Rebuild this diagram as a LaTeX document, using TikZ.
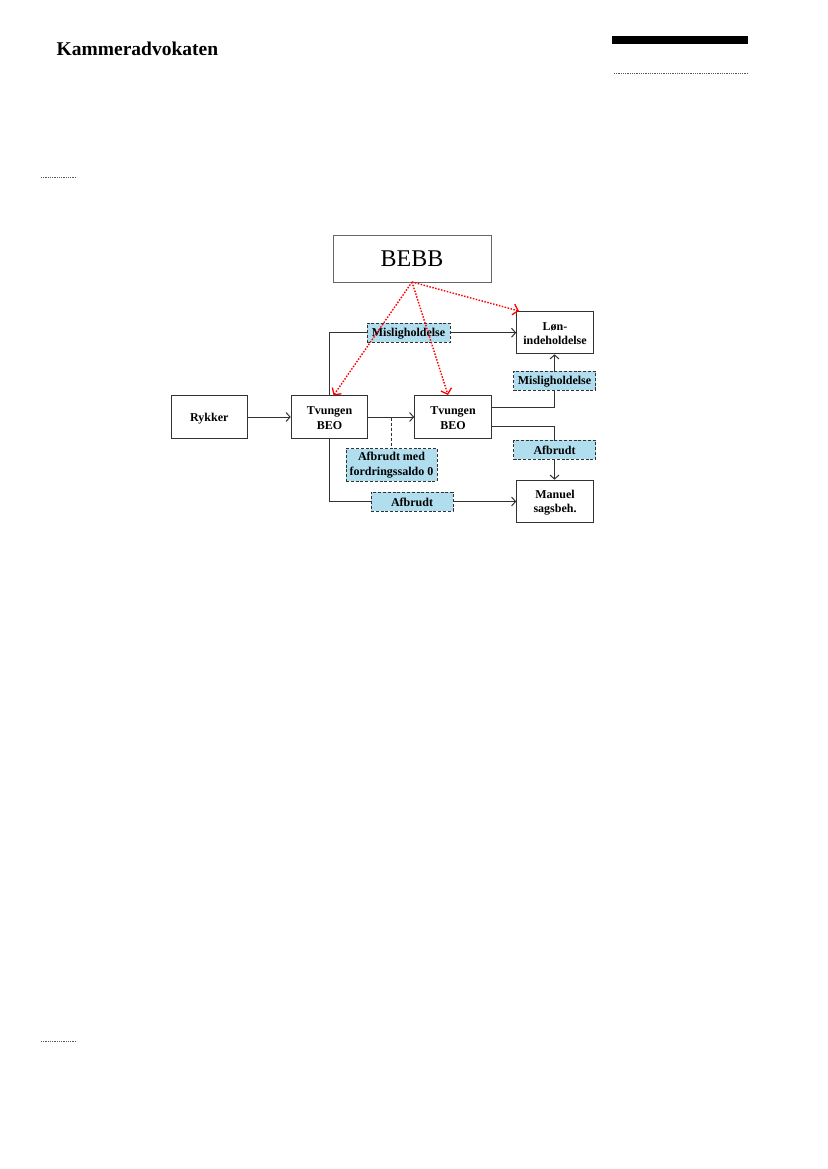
\documentclass[tikz,border=0pt]{standalone}
\usepackage{fontspec}
\setmainfont{Liberation Serif}
\usetikzlibrary{arrows.meta}
\definecolor{lblue}{RGB}{176,222,238}
\definecolor{lineg}{RGB}{50,50,50}
\newcommand{\dnshift}[2]{\raisebox{-#1}[\height][\depth]{#2}}
\tikzset{
  boxn/.style={draw=lineg,line width=1.1pt,fill=white,inner sep=0pt,minimum width=76.5pt,minimum height=42.5pt,align=center,font=\fontsize{12}{14.5}\selectfont\bfseries},
  lab/.style={draw=lineg,line width=1pt,dash pattern=on 3pt off 1.8pt,fill=lblue,inner sep=0pt,align=center,font=\fontsize{12}{14.5}\selectfont\bfseries},
  conn/.style={draw=lineg,line width=1pt},
  arr/.style={conn,-{Straight Barb[length=4pt,width=9pt]}},
  redarr/.style={draw=red,line width=1.4pt,dash pattern=on 1.5pt off 1.5pt,-{Straight Barb[length=5pt,width=11pt,line width=1.3pt]}},
  rule/.style={draw=black!65,line width=0.7pt,dash pattern=on 0.9pt off 0.9pt}
}
\begin{document}
\begin{tikzpicture}[x=1pt,y=-1pt]
\useasboundingbox[fill=white] (0,0) rectangle (827,1169);
% header
\node[anchor=west,inner sep=0pt,font=\fontsize{19.5}{20}\selectfont\bfseries] (title) at (56.5,48.5) {Kammeradvokaten};
\fill[black] (612,36) rectangle (748,44);
\coordinate (ra) at (614,73); \coordinate (rb) at (748,73);
\draw[rule] (ra) -- (rb);
\coordinate (rc) at (41,177); \coordinate (rd) at (77,177);
\draw[rule] (rc) -- (rd);
\coordinate (re) at (41,1041); \coordinate (rf) at (77,1041);
\draw[rule] (re) -- (rf);
% nodes
\node[draw=black!60,line width=0.7pt,inner sep=0pt,minimum width=158pt,minimum height=47pt,font=\fontsize{24}{26}\selectfont] (bebb) at (412,258.5) {BEBB};
\node[boxn] (ryk) at (209.3,417) {\dnshift{2pt}{Rykker}};
\node[boxn] (t1) at (329.5,417) {\dnshift{1pt}{Tvungen}\\\dnshift{1pt}{BEO}};
\node[boxn] (t2) at (453,417) {\dnshift{1pt}{Tvungen}\\\dnshift{1pt}{BEO}};
\node[boxn] (lon) at (555,332.5) {\dnshift{1pt}{Løn-}\\\dnshift{1pt}{indeholdelse}};
\node[boxn] (man) at (555,501.5) {\dnshift{1pt}{Manuel}\\\dnshift{1pt}{sagsbeh.}};
\coordinate (t2a) at (491.2,407.3);
\coordinate (t2b) at (491.2,426.7);
\coordinate (dj) at (391.5,417.5);
% connectors under labels
\draw[arr] (ryk.east) -- (t1.west);
\draw[arr] (t1.east) -- (t2.west);
\node[lab,minimum width=83pt,minimum height=19pt] (m1) at (408.5,332.7) {\dnshift{1pt}{Misligholdelse}};
\node[lab,minimum width=82pt,minimum height=19pt] (m2) at (554.5,380.5) {\dnshift{1pt}{Misligholdelse}};
\node[lab,minimum width=82pt,minimum height=19pt] (a1) at (554.5,449.7) {\dnshift{1pt}{Afbrudt}};
\node[lab,minimum width=82pt,minimum height=19pt] (a2) at (412,501.5) {\dnshift{0.5pt}{Afbrudt}};
\node[lab,minimum width=91pt,minimum height=32.5pt] (a3) at (391.5,465) {Afbrudt med\\fordringssaldo 0};
\draw[conn] (t1.north) |- (m1.west);
\draw[arr] (m1.east) -- (m1.east -| lon.west);
\draw[conn] (t1.south) |- (a2.west);
\draw[arr] (a2.east) -- (a2.east -| man.west);
\draw[conn] (t2a) -| (m2.south);
\draw[arr] (m2.north) -- (m2.north |- lon.south);
\draw[conn] (t2b) -| (a1.north);
\draw[arr] (a1.south) -- (a1.south |- man.north);
\draw[conn,dash pattern=on 3pt off 2pt] (dj) -- (a3.north -| dj);
% red
\coordinate (rt) at (412,282);
\coordinate (r1) at (333.5,395.5);
\coordinate (r2) at (448,395);
\coordinate (r3) at (519,311);
\draw[redarr] (rt) -- (r1);
\draw[redarr] (rt) -- (r2);
\draw[redarr] (rt) -- (r3);
\end{tikzpicture}
\end{document}
